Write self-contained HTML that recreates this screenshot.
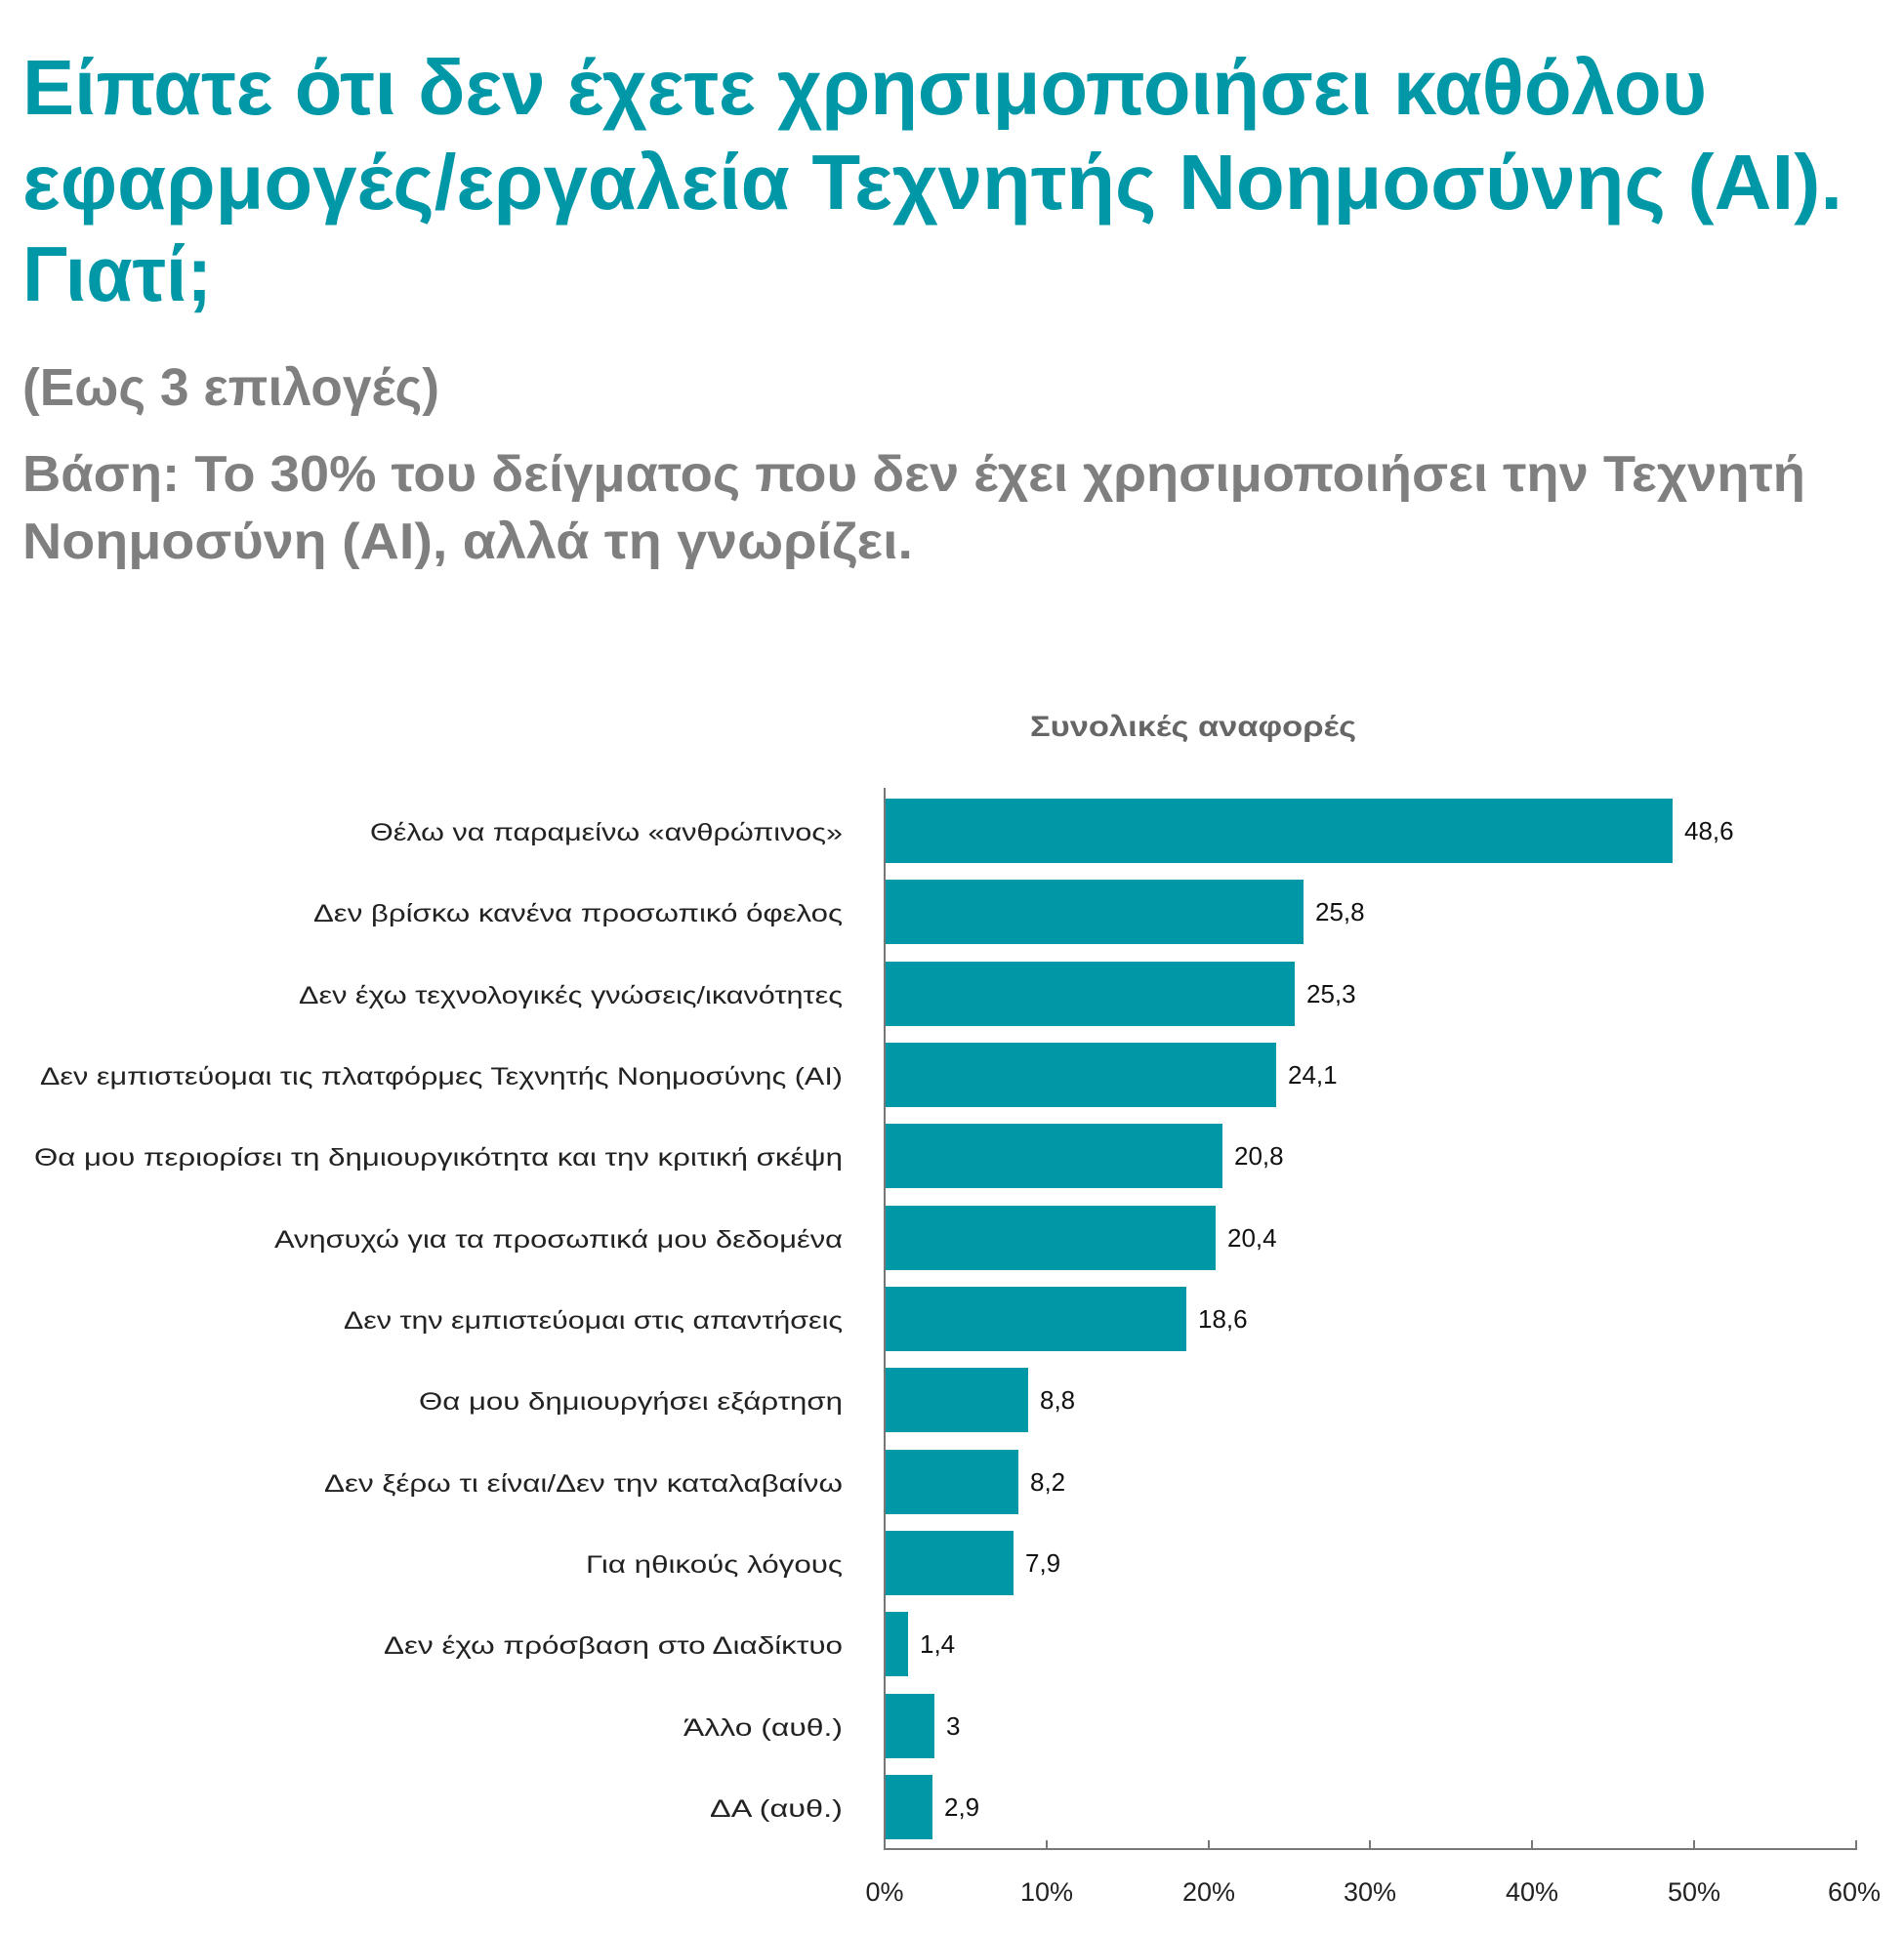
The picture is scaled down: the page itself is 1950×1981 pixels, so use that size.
<!DOCTYPE html>
<html><head><meta charset="utf-8"><style>
html,body{margin:0;padding:0;background:#fff;}
svg{display:block;}
text{font-family:"Liberation Sans","DejaVu Sans",sans-serif;}
</style></head><body>
<svg width="1950" height="1981" viewBox="0 0 1950 1981" xmlns="http://www.w3.org/2000/svg">
<g fill="#0097a7" font-weight="bold" font-size="80">
<text x="23" y="117" textLength="1725" lengthAdjust="spacingAndGlyphs">Είπατε ότι δεν έχετε χρησιμοποιήσει καθόλου</text>
<text x="23" y="214" textLength="1864" lengthAdjust="spacingAndGlyphs">εφαρμογές/εργαλεία Τεχνητής Νοημοσύνης (AI).</text>
<text x="23" y="308" textLength="194" lengthAdjust="spacingAndGlyphs">Γιατί;</text>
</g>
<g fill="#7f7f7f" font-weight="bold">
<text x="23" y="415" font-size="54" textLength="427" lengthAdjust="spacingAndGlyphs">(Εως 3 επιλογές)</text>
<text x="23" y="503" font-size="52" textLength="1826" lengthAdjust="spacingAndGlyphs">Βάση: Το 30% του δείγματος που δεν έχει χρησιμοποιήσει την Τεχνητή</text>
<text x="23" y="572" font-size="52" textLength="912" lengthAdjust="spacingAndGlyphs">Νοημοσύνη (AI), αλλά τη γνωρίζει.</text>
<text x="1222" y="754" font-size="30" text-anchor="middle" fill="#666" textLength="334" lengthAdjust="spacingAndGlyphs">Συνολικές αναφορές</text>
</g>
<g stroke="#777" stroke-width="2" fill="none">
<line x1="906" y1="807" x2="906" y2="1894"/>
<line x1="905" y1="1894" x2="1902" y2="1894"/>
<line x1="1072" y1="1885" x2="1072" y2="1894"/>
<line x1="1238" y1="1885" x2="1238" y2="1894"/>
<line x1="1403" y1="1885" x2="1403" y2="1894"/>
<line x1="1569" y1="1885" x2="1569" y2="1894"/>
<line x1="1735" y1="1885" x2="1735" y2="1894"/>
<line x1="1901" y1="1885" x2="1901" y2="1894"/>
</g>
<g fill="#222" font-size="27" text-anchor="middle">
<text x="906" y="1947">0%</text>
<text x="1072" y="1947">10%</text>
<text x="1238" y="1947">20%</text>
<text x="1403" y="1947">30%</text>
<text x="1569" y="1947">40%</text>
<text x="1735" y="1947">50%</text>
<text x="1899" y="1947">60%</text>
</g>
<g fill="#0098a6">
<rect x="907" y="818" width="806" height="66"/>
<rect x="907" y="901" width="428" height="66"/>
<rect x="907" y="985" width="419" height="66"/>
<rect x="907" y="1068" width="400" height="66"/>
<rect x="907" y="1151" width="345" height="66"/>
<rect x="907" y="1235" width="338" height="66"/>
<rect x="907" y="1318" width="308" height="66"/>
<rect x="907" y="1401" width="146" height="66"/>
<rect x="907" y="1485" width="136" height="66"/>
<rect x="907" y="1568" width="131" height="66"/>
<rect x="907" y="1651" width="23" height="66"/>
<rect x="907" y="1735" width="50" height="66"/>
<rect x="907" y="1818" width="48" height="66"/>
</g>
<g fill="#111" font-size="26">
<text x="1725" y="860">48,6</text>
<text x="1347" y="943">25,8</text>
<text x="1338" y="1027">25,3</text>
<text x="1319" y="1110">24,1</text>
<text x="1264" y="1193">20,8</text>
<text x="1257" y="1277">20,4</text>
<text x="1227" y="1360">18,6</text>
<text x="1065" y="1443">8,8</text>
<text x="1055" y="1527">8,2</text>
<text x="1050" y="1610">7,9</text>
<text x="942" y="1693">1,4</text>
<text x="969" y="1777">3</text>
<text x="967" y="1860">2,9</text>
</g>
<g fill="#222" font-size="25" text-anchor="end">
<text x="863" y="861" textLength="484" lengthAdjust="spacingAndGlyphs">Θέλω να παραμείνω «ανθρώπινος»</text>
<text x="863" y="944" textLength="542" lengthAdjust="spacingAndGlyphs">Δεν βρίσκω κανένα προσωπικό όφελος</text>
<text x="863" y="1028" textLength="557" lengthAdjust="spacingAndGlyphs">Δεν έχω τεχνολογικές γνώσεις/ικανότητες</text>
<text x="863" y="1111" textLength="822" lengthAdjust="spacingAndGlyphs">Δεν εμπιστεύομαι τις πλατφόρμες Τεχνητής Νοημοσύνης (AI)</text>
<text x="863" y="1194" textLength="828" lengthAdjust="spacingAndGlyphs">Θα μου περιορίσει τη δημιουργικότητα και την κριτική σκέψη</text>
<text x="863" y="1278" textLength="582" lengthAdjust="spacingAndGlyphs">Ανησυχώ για τα προσωπικά μου δεδομένα</text>
<text x="863" y="1361" textLength="511" lengthAdjust="spacingAndGlyphs">Δεν την εμπιστεύομαι στις απαντήσεις</text>
<text x="863" y="1444" textLength="434" lengthAdjust="spacingAndGlyphs">Θα μου δημιουργήσει εξάρτηση</text>
<text x="863" y="1528" textLength="531" lengthAdjust="spacingAndGlyphs">Δεν ξέρω τι είναι/Δεν την καταλαβαίνω</text>
<text x="863" y="1611" textLength="263" lengthAdjust="spacingAndGlyphs">Για ηθικούς λόγους</text>
<text x="863" y="1694" textLength="470" lengthAdjust="spacingAndGlyphs">Δεν έχω πρόσβαση στο Διαδίκτυο</text>
<text x="863" y="1778" textLength="163" lengthAdjust="spacingAndGlyphs">Άλλο (αυθ.)</text>
<text x="863" y="1861" textLength="136" lengthAdjust="spacingAndGlyphs">ΔΑ (αυθ.)</text>
</g>
</svg>
</body></html>
